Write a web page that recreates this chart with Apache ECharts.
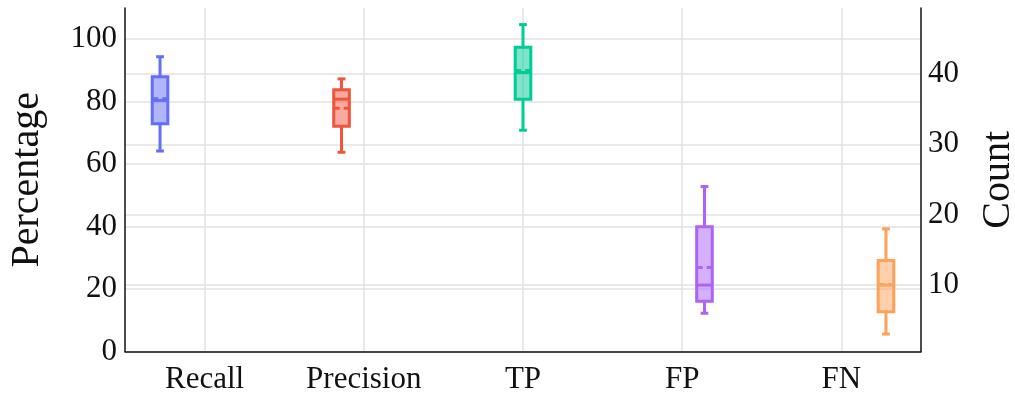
<!DOCTYPE html>
<html>
<head>
<meta charset="utf-8">
<script src="https://cdn.jsdelivr.net/npm/echarts@6/dist/echarts.min.js"></script>
<style>html,body{margin:0;padding:0;background:#fff;}#c{width:1015px;height:396px;}</style>
</head>
<body>
<div id="c"></div>
<script>
// ---- data ----
const categories = ['Recall', 'Precision', 'TP', 'FP', 'FN'];
const yAxisOf    = [0, 0, 1, 1, 1];          // 0 = Percentage, 1 = Count
const whiskerLow = [64.2, 63.8, 32.0, 6.0, 3.05];
const q1         = [72.9, 72.1, 36.4, 7.7, 6.2];
const median     = [80.4, 80.8, 40.2, 10.0, 10.0];
const q3         = [88.0, 83.8, 43.8, 18.3, 13.5];
const whiskerHigh= [94.4, 87.3, 47.0, 24.0, 18.0];
const mean       = [80.9, 77.9, 40.5, 12.5, 10.1];
const percentTicks = [0, 20, 40, 60, 80, 100];
const countTicks   = [10, 20, 30, 40];

// ---- style ----
const colors = ['#636EFA', '#EF553B', '#00CC96', '#AB63FA', '#FFA15A'];
const FONT = 'Liberation Serif';
const nTraces = categories.length;
const groupW = 0.7, slotW = groupW / nTraces, boxW = slotW * 0.7, capFrac = 0.5;

function hexA(hex, a) {
  const n = parseInt(hex.slice(1), 16);
  return `rgba(${n >> 16},${(n >> 8) & 255},${n & 255},${a})`;
}

const series = categories.map((name, i) => ({
  type: 'custom',
  name: name,
  xAxisIndex: 0,
  yAxisIndex: yAxisOf[i],
  data: [[i, whiskerLow[i], q1[i], median[i], q3[i], whiskerHigh[i], mean[i]]],
  renderItem: function (params, api) {
    const x = api.value(0) - groupW / 2 + slotW * (i + 0.5);
    const hw = api.size([boxW, 0])[0] / 2;
    const cw = hw * capFrac;
    const P = v => api.coord([x, v]);
    const pLo = P(api.value(1)), pQ1 = P(api.value(2)), pMed = P(api.value(3)),
          pQ3 = P(api.value(4)), pHi = P(api.value(5)), pMean = P(api.value(6));
    const cx = pQ1[0];
    const col = colors[i];
    const ls = { stroke: col, lineWidth: 3 };
    return {
      type: 'group',
      children: [
        { type: 'line', shape: { x1: cx, y1: pQ3[1], x2: cx, y2: pHi[1] }, style: ls },
        { type: 'line', shape: { x1: cx, y1: pQ1[1], x2: cx, y2: pLo[1] }, style: ls },
        { type: 'line', shape: { x1: cx - cw, y1: pHi[1], x2: cx + cw, y2: pHi[1] }, style: ls },
        { type: 'line', shape: { x1: cx - cw, y1: pLo[1], x2: cx + cw, y2: pLo[1] }, style: ls },
        { type: 'rect', shape: { x: cx - hw, y: pQ3[1], width: 2 * hw, height: pQ1[1] - pQ3[1] },
          style: { fill: hexA(col, 0.5), stroke: col, lineWidth: 3 } },
        { type: 'line', shape: { x1: cx - hw, y1: pMed[1], x2: cx + hw, y2: pMed[1] }, style: ls },
        { type: 'line', shape: { x1: cx - hw, y1: pMean[1], x2: cx + hw, y2: pMean[1] },
          style: { stroke: col, lineWidth: 3, lineDash: [6, 4] } }
      ]
    };
  }
}));

const gridLine = { show: true, lineStyle: { color: '#e2e2e2', width: 1.5 } };
const axisLine = { show: true, onZero: false, lineStyle: { color: '#111', width: 1.5 } };

const option = {
  animation: false,
  backgroundColor: '#fff',
  grid: { left: 125, right: 94, top: 8, bottom: 44.5, containLabel: false, outerBoundsMode: 'none' },
  xAxis: {
    type: 'value', min: -0.5, max: 4.5,
    axisLine: axisLine,
    axisTick: { show: false, customValues: [0, 1, 2, 3, 4] },
    axisLabel: { customValues: [0, 1, 2, 3, 4], formatter: v => categories[v] ?? '',
                 fontFamily: FONT, fontSize: 31, color: '#111', margin: 13 },
    splitLine: gridLine
  },
  yAxis: [
    {
      type: 'value', min: 0, max: 110, position: 'left',
      name: 'Percentage', nameLocation: 'middle', nameRotate: 90, nameGap: 78,
      nameTextStyle: { fontFamily: FONT, fontSize: 40, color: '#111' },
      axisLine: axisLine,
      axisTick: { show: false, customValues: percentTicks },
      axisLabel: { customValues: percentTicks, fontFamily: FONT, fontSize: 31, color: '#111', margin: 8 },
      splitLine: gridLine
    },
    {
      type: 'value', min: 0.57, max: 49.36, position: 'right',
      name: 'Count', nameLocation: 'middle', nameRotate: 90, nameGap: 57,
      nameTextStyle: { fontFamily: FONT, fontSize: 40, color: '#111', verticalAlign: 'top' },
      axisLine: axisLine,
      axisTick: { show: false, customValues: countTicks },
      axisLabel: { customValues: countTicks, fontFamily: FONT, fontSize: 31, color: '#111', margin: 7 },
      splitLine: gridLine
    }
  ],
  series: series
};

const chart = echarts.init(document.getElementById('c'), null, { renderer: 'canvas' });
chart.setOption(option);
</script>
</body>
</html>
